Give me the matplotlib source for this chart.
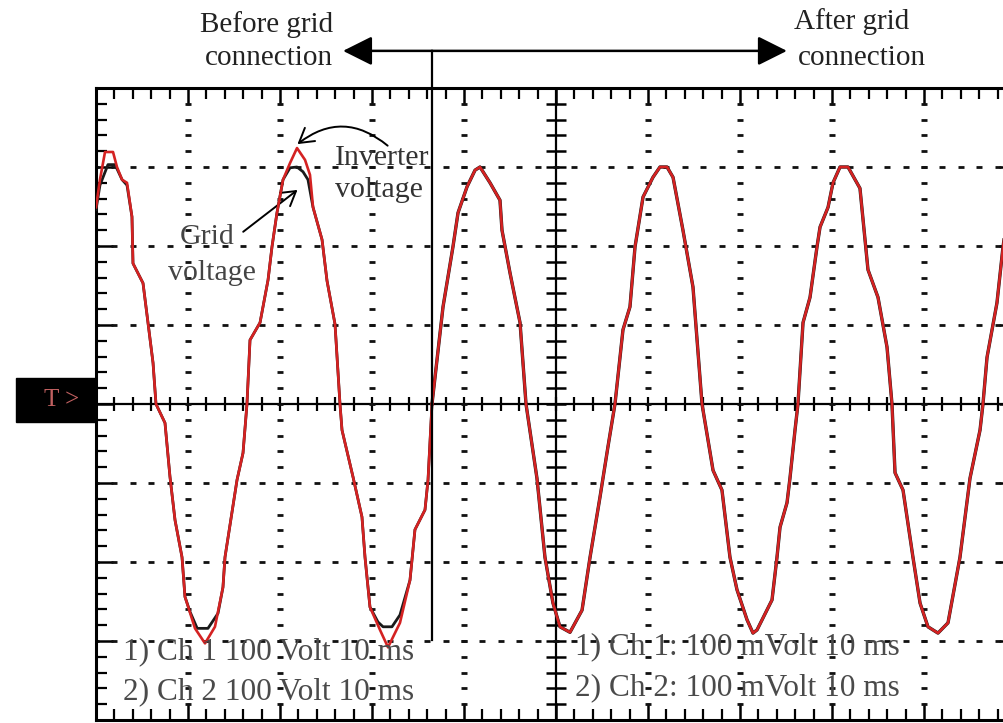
import matplotlib
matplotlib.use("Agg")
import matplotlib.pyplot as plt
import numpy as np
from matplotlib.patches import Rectangle

# time in ms (10 ms/div), voltage in V (100 V/div)
inv_before_t = [0.0, 0.43, 0.98, 1.85, 2.28, 2.83, 3.37, 3.91, 4.02, 5.11, 5.65, 6.2, 6.52, 7.5, 8.04, 8.59,
                9.35, 9.67, 10.76, 11.85, 12.93, 13.8, 14.02, 15.33, 15.98, 16.41, 16.74, 17.83, 18.7, 19.13,
                19.67, 20.33, 21.09, 21.85, 22.72, 23.26, 23.59, 24.57, 25.11, 25.98, 26.52, 26.74, 27.93,
                28.91, 29.24, 29.78, 30.87, 31.74, 33.04, 34.13, 34.67, 35.76, 36.09, 36.52]
inv_before_v = [249, 284, 319, 319, 300, 284, 280, 237, 178, 153, 103, 52, 0, -24, -92, -147,
                -194, -244, -284, -303, -282, -232, -194, -96, -62, 0, 81, 103, 157, 199,
                242, 284, 305, 324, 309, 290, 249, 208, 156, 101, 0, -33, -92,
                -143, -194, -257, -286, -308, -277, -223, -159, -134, -96, 0]

grid_before_t = [0.0, 0.43, 1.3, 2.07, 2.83, 3.37, 3.91, 4.02, 5.11, 5.65, 6.2, 6.52, 7.5, 8.04, 8.59, 9.35,
                 9.67, 10.22, 11.0, 12.17, 13.26, 13.8, 14.02, 15.33, 15.98, 16.41, 16.74, 17.83, 18.7,
                 19.13, 19.67, 20.33, 21.09, 21.85, 22.5, 23.04, 23.59, 24.57, 25.11, 25.98, 26.52, 26.74,
                 27.93, 28.91, 29.24, 29.78, 30.65, 31.2, 32.17, 33.04, 34.13, 34.67, 35.76, 36.09, 36.52]
grid_before_v = [246, 277, 303, 303, 284, 277, 237, 178, 153, 103, 52, 0, -24, -92, -147, -194,
                 -244, -263, -284, -284, -265, -232, -194, -96, -62, 0, 81, 103, 157,
                 199, 242, 284, 299, 300, 294, 284, 249, 208, 156, 101, 0, -33,
                 -92, -143, -194, -257, -276, -282, -282, -267, -223, -159, -134, -96, 0]

# after connection both traces lie on top of each other
after_t = [36.52, 37.72, 38.8, 39.35, 40.33, 41.2, 41.74, 42.83, 43.91, 44.13, 45.0, 46.09, 46.74, 47.93,
           48.8, 49.67, 50.43, 51.52, 52.83, 53.7, 54.78, 55.65, 56.41, 57.28, 58.04, 58.59, 59.46, 60.54,
           61.3, 62.07, 62.72, 63.8, 64.89, 65.87, 67.07, 68.04, 68.91, 69.67, 70.76, 71.41, 71.85, 73.48,
           74.02, 74.35, 75.11, 75.43, 75.98, 76.3, 76.85, 77.61, 78.37, 78.7, 79.57, 80.11, 80.87, 81.74,
           83.04, 83.91, 85.0, 85.98, 86.52, 86.85, 87.72, 88.8, 89.57, 90.43, 91.52, 92.61, 93.91, 95.0,
           96.09, 96.41, 96.85, 97.93, 98.59, 99.3]
after_v = [0, 123, 199, 242, 275, 296, 300, 280, 258, 220, 166, 103, 0, -94,
           -194, -252, -282, -289, -261, -194, -118, -54, 0, 94, 123, 199, 262, 287,
           300, 300, 287, 220, 148, 0, -84, -109, -194, -235, -273, -290, -286, -248,
           -194, -156, -125, -94, -33, 0, 103, 135, 199, 224, 249, 280, 300, 300,
           273, 170, 135, 72, 0, -87, -109, -194, -252, -282, -290, -277, -194, -94,
           -33, 0, 59, 128, 199, 258]

t_connect = 36.52

W, H = 1004, 723
def px(x, y):
    return x / W, 1 - y / H

plt.rcParams['font.family'] = ['Liberation Serif', 'DejaVu Serif']

fig = plt.figure(figsize=(W / 100, H / 100), dpi=100)
ax = fig.add_axes([96 / W, 3 / H, 920 / W, 632 / H])
ax.set_xlim(0, 100)
ax.set_ylim(-400, 400)

# oscilloscope graticule
ax.axhline(0, color='k', lw=1.6, zorder=2)
ax.axvline(50, color='k', lw=1.6, zorder=2)
ax.plot(np.arange(0, 100.1, 2), np.zeros(51), ls='none', marker='|', ms=10, mew=1.6, color='k', zorder=2)
ax.plot(np.full(41, 50), np.arange(-400, 400.1, 20), ls='none', marker='_', ms=14, mew=1.8, color='k', zorder=2)
for yy in [-300, -200, -100, 100, 200, 300]:
    ax.plot(np.arange(0, 100.1, 2), np.full(51, yy), ls='none', marker='_', ms=5, mew=2.0, color='#111111', zorder=2)
for xx in [10, 20, 30, 40, 60, 70, 80, 90]:
    ax.plot(np.full(41, xx), np.arange(-400, 400.1, 20), ls='none', marker='_', ms=4.5, mew=2.0, color='#111111', zorder=2)

ax.set_xticks(np.arange(0, 101, 10))
ax.set_xticks(np.arange(0, 101, 2), minor=True)
ax.set_yticks(np.arange(-400, 401, 100))
ax.set_yticks(np.arange(-400, 401, 20), minor=True)
ax.tick_params(which='both', direction='in', top=True, right=True, labelbottom=False, labelleft=False, color='k')
ax.tick_params(which='major', length=12, width=1.8)
ax.tick_params(which='minor', length=8, width=1.6)
for s in ax.spines.values():
    s.set_linewidth(2.2)

# traces
ax.plot(grid_before_t, grid_before_v, color='#1a1a1a', lw=2.0, zorder=3)
ax.plot(after_t, after_v, color='#1a1a1a', lw=2.4, zorder=3)
ax.plot(inv_before_t, inv_before_v, color='#d42222', lw=1.9, zorder=4)
ax.plot(after_t, after_v, color='#d42222', lw=1.9, zorder=4)

# grid connection marker
ax.plot([t_connect, t_connect], [-299, 447], color='k', lw=1.6, clip_on=False, zorder=5)
head = '-|>,head_length=0.9,head_width=0.45'
ax.annotate('', xy=(26.85, 447), xytext=(t_connect, 447), annotation_clip=False,
            arrowprops=dict(arrowstyle=head, mutation_scale=20, color='k', lw=1.8, shrinkA=0, shrinkB=0))
ax.annotate('', xy=(75.1, 447), xytext=(t_connect, 447), annotation_clip=False,
            arrowprops=dict(arrowstyle=head, mutation_scale=20, color='k', lw=1.8, shrinkA=0, shrinkB=0))

fig.text(*px(267, 25), 'Before grid', ha='center', va='center', fontsize=21, color='#222222')
fig.text(*px(269, 58), 'connection', ha='center', va='center', fontsize=21, color='#222222')
fig.text(*px(852, 22), 'After grid', ha='center', va='center', fontsize=21, color='#222222')
fig.text(*px(862, 58), 'connection', ha='center', va='center', fontsize=21, color='#222222')

# trace labels
fig.text(*px(335, 158), 'Inverter', ha='left', va='center', fontsize=21.5, color='#333333')
fig.text(*px(335, 190), 'voltage', ha='left', va='center', fontsize=21.5, color='#333333')
fig.text(*px(207, 237), 'Grid', ha='center', va='center', fontsize=21.5, color='#444444')
fig.text(*px(212, 273), 'voltage', ha='center', va='center', fontsize=21.5, color='#444444')
ax.annotate('', xy=(21.9, 329), xytext=(31.7, 327),
            arrowprops=dict(arrowstyle='->,head_length=0.5,head_width=0.3', mutation_scale=20, color='k',
                            lw=1.4, shrinkA=0, shrinkB=0, connectionstyle='arc3,rad=0.4'))
ax.annotate('', xy=(21.9, 271), xytext=(16.0, 218),
            arrowprops=dict(arrowstyle='->,head_length=0.5,head_width=0.3', mutation_scale=20, color='k',
                            lw=1.4, shrinkA=0, shrinkB=0))

# channel settings
fig.text(*px(123, 652), '1) Ch 1 100 Volt 10 ms', ha='left', va='center', fontsize=22.5, color='#4a4a4a')
fig.text(*px(123, 692), '2) Ch 2 100 Volt 10 ms', ha='left', va='center', fontsize=22.5, color='#4a4a4a')
fig.text(*px(575, 647), '1) Ch 1: 100 mVolt 10 ms', ha='left', va='center', fontsize=22.5, color='#4a4a4a')
fig.text(*px(575, 688), '2) Ch 2: 100 mVolt 10 ms', ha='left', va='center', fontsize=22.5, color='#4a4a4a')

# trigger marker
fig.patches.append(Rectangle(px(16, 422), 80 / W, 44 / H, transform=fig.transFigure, facecolor='black',
                             edgecolor='black'))
fig.text(*px(62, 400), 'T >', ha='center', va='center', fontsize=18, color='#c06060')

fig.savefig('out.png', dpi=100)
